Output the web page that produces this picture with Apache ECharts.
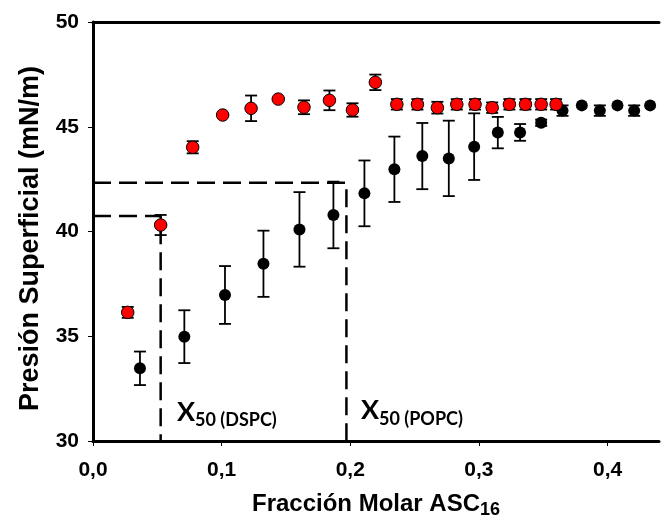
<!DOCTYPE html>
<html>
<head>
<meta charset="utf-8">
<script src="https://cdn.jsdelivr.net/npm/echarts@6/dist/echarts.min.js"></script>
<style>html,body{margin:0;padding:0;background:#fff}#c{width:661px;height:529px}</style>
</head>
<body>
<div id="c"></div>
<script>
// Red series (with error)
const redX = [0.027, 0.0526, 0.0775, 0.1008, 0.1229, 0.144, 0.164, 0.1838, 0.2017, 0.2195, 0.2362, 0.2522, 0.2677, 0.2828, 0.297, 0.3103, 0.3237, 0.3362, 0.3484, 0.36];
const redY = [36.14, 40.31, 44.02, 45.56, 45.88, 46.32, 45.93, 46.26, 45.80, 47.12, 46.07, 46.07, 45.91, 46.07, 46.07, 45.91, 46.07, 46.07, 46.07, 46.07];
const redErr = [0.26, 0.48, 0.29, 0.05, 0.61, 0.05, 0.33, 0.47, 0.32, 0.37, 0.25, 0.25, 0.28, 0.25, 0.25, 0.25, 0.25, 0.25, 0.25, 0.25];
// Black series (with error)
const blackX = [0.0365, 0.071, 0.1026, 0.1325, 0.1605, 0.1869, 0.211, 0.2343, 0.256, 0.2766, 0.2963, 0.3147, 0.332, 0.3484, 0.365, 0.38, 0.394, 0.4077, 0.4207, 0.4331];
const blackY = [33.47, 34.98, 36.97, 38.46, 40.10, 40.79, 41.82, 42.97, 43.60, 43.49, 44.05, 44.72, 44.73, 45.19, 45.77, 46.02, 45.77, 46.02, 45.77, 46.02];
const blackErr = [0.8, 1.26, 1.38, 1.58, 1.78, 1.59, 1.57, 1.56, 1.58, 1.8, 1.59, 0.75, 0.4, 0.15, 0.25, 0, 0.25, 0, 0.25, 0];
// X50 guide lines
const x50DSPC = [[0, 40.74], [0.0526, 40.74], [0.0526, 30]];
const x50POPC = [[0, 42.33], [0.197, 42.33], [0.197, 30]];
const xTicks = [0, 0.1, 0.2, 0.3, 0.4];
const yTicks = [30, 35, 40, 45, 50];

function pts(xs, ys) { return xs.map((x, i) => [x, ys[i]]); }
function errData(xs, ys, es) { return xs.map((x, i) => [x, ys[i] - es[i], ys[i] + es[i]]); }

function errRender(params, api) {
  const x = api.value(0), lo = api.value(1), hi = api.value(2);
  if (hi - lo < 0.01) return null;
  const pLo = api.coord([x, lo]), pHi = api.coord([x, hi]);
  const w = 6;
  const style = { stroke: '#000', lineWidth: 1.8 };
  return {
    type: 'group',
    children: [
      { type: 'line', shape: { x1: pLo[0], y1: pLo[1], x2: pHi[0], y2: pHi[1] }, style },
      { type: 'line', shape: { x1: pLo[0] - w, y1: pLo[1], x2: pLo[0] + w, y2: pLo[1] }, style },
      { type: 'line', shape: { x1: pHi[0] - w, y1: pHi[1], x2: pHi[0] + w, y2: pHi[1] }, style }
    ]
  };
}

const font = '"Liberation Sans", Arial, sans-serif';
const calib = 'Lato, "Open Sans", sans-serif';
const chart = echarts.init(document.getElementById('c'));
chart.setOption({
  animation: false,
  backgroundColor: '#fff',
  grid: { left: 93, top: 22, right: 2, bottom: 88, containLabel: false, outerBoundsMode: 'none' },
  xAxis: [{
    type: 'value', min: 0, max: 0.44, interval: 0.1,
    axisLine: { show: true, onZero: false, lineStyle: { color: '#000', width: 3 } },
    axisTick: { show: true, inside: false, length: 5, lineStyle: { color: '#000', width: 1 } },
    axisLabel: { color: '#000', fontFamily: font, fontWeight: 'bold', fontSize: 21, margin: 19,
      showMaxLabel: false,
      formatter: v => (Math.abs(v - 0.44) < 1e-6 ? '' : v.toFixed(1).replace('.', ',')) },
    splitLine: { show: false },
    name: '{t|Fracción Molar ASC}{s|16}',
    nameLocation: 'middle', nameGap: 51,
    nameTextStyle: { rich: {
      t: { fontFamily: font, fontWeight: 'bold', fontSize: 24, color: '#000', verticalAlign: 'top', lineHeight: 28 },
      s: { fontFamily: font, fontWeight: 'bold', fontSize: 18, color: '#000', verticalAlign: 'top', lineHeight: 28, padding: [9, 0, 0, 0] }
    } }
  }, {
    type: 'value', min: 0, max: 0.44, position: 'top',
    axisLine: { show: true, onZero: false, lineStyle: { color: '#000', width: 3 } },
    axisTick: { show: false }, axisLabel: { show: false }, splitLine: { show: false }
  }],
  yAxis: {
    type: 'value', min: 30, max: 50, interval: 5,
    axisLine: { show: true, onZero: false, lineStyle: { color: '#000', width: 3 } },
    axisTick: { show: true, inside: false, length: 5, lineStyle: { color: '#000', width: 1 } },
    axisLabel: { color: '#000', fontFamily: font, fontWeight: 'bold', fontSize: 21, margin: 14 },
    splitLine: { show: false },
    name: 'Presión Superficial (mN/m)',
    nameLocation: 'middle', nameGap: 49,
    nameTextStyle: { fontFamily: font, fontWeight: 'bold', fontSize: 27, color: '#000', padding: [0, 14, 0, 0] }
  },
  series: [
    { type: 'line', data: x50DSPC, symbol: 'none', silent: true, z: 1,
      lineStyle: { color: '#000', width: 2.5, type: [18, 8] } },
    { type: 'line', data: x50POPC, symbol: 'none', silent: true, z: 1,
      lineStyle: { color: '#000', width: 2.5, type: [18, 8] } },
    { type: 'custom', renderItem: errRender, data: errData(blackX, blackY, blackErr), z: 2, encode: { x: 0, y: [1, 2] } },
    { type: 'scatter', data: pts(blackX, blackY), symbol: 'circle', symbolSize: 12, z: 3,
      itemStyle: { color: '#000', borderColor: '#000', borderWidth: 0, opacity: 1 } },
    { type: 'custom', renderItem: errRender, data: errData(redX, redY, redErr), z: 4, encode: { x: 0, y: [1, 2] } },
    { type: 'scatter', data: pts(redX, redY), symbol: 'circle', symbolSize: 12.5, z: 5,
      itemStyle: { color: '#ff0000', borderColor: '#000', borderWidth: 1, opacity: 1 } }
  ],
  graphic: [
    { type: 'text', left: 177, top: 399, z: 10, style: { text: 'X', font: 'bold 27px ' + calib, fill: '#000' } },
    { type: 'text', left: 195, top: 411, z: 10, style: { text: '50 (DSPC)', font: 'bold 18px ' + calib, fill: '#000' } },
    { type: 'text', left: 361, top: 397, z: 10, style: { text: 'X', font: 'bold 27px ' + calib, fill: '#000' } },
    { type: 'text', left: 379, top: 410, z: 10, style: { text: '50 (POPC)', font: 'bold 18px ' + calib, fill: '#000' } }
  ]
});
</script>
</body>
</html>
